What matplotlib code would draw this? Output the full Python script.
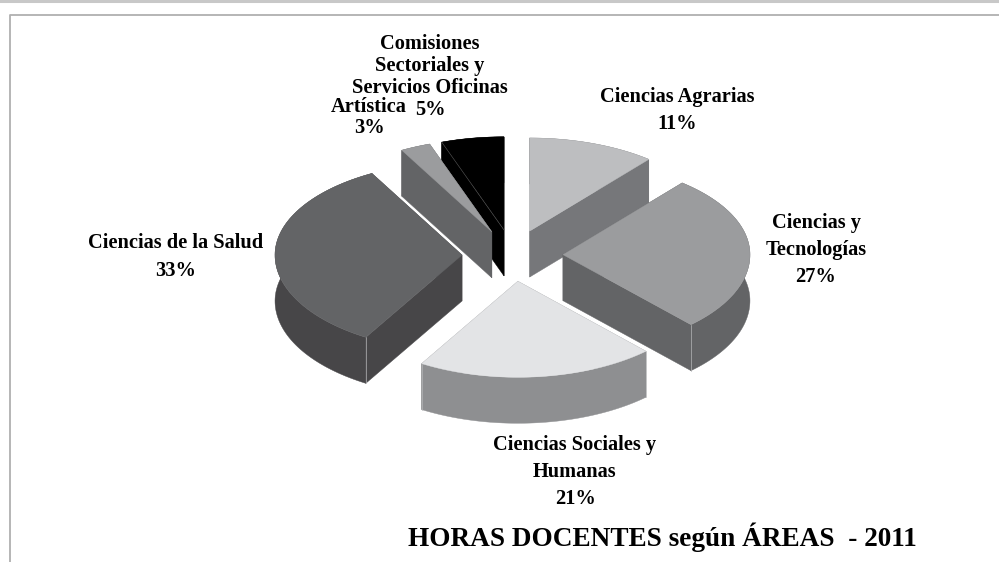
import numpy as np
from matplotlib import pyplot as plt
from matplotlib.patches import Polygon

plt.rcParams['font.family'] = ['Liberation Serif', 'DejaVu Serif']

# clockwise from 12 o'clock
areas = ["Ciencias Agrarias", "Ciencias y\nTecnologías", "Ciencias Sociales y\nHumanas",
         "Ciencias de la Salud", "Artística", "Comisiones\nSectoriales y\nServicios Oficinas"]
values = [11, 27, 20.6, 33.4, 2.6, 5.4]

top_colors = ['#bdbec0', '#9b9c9e', '#e3e4e6', '#636466', '#9b9c9e', '#000000']
side_colors = ['#76777a', '#636466', '#8e8f91', '#474648', '#636466', '#000000']
draw_order = [0, 5, 4, 3, 1, 2]

label_pos = [(677, 110.5), (816, 250), (575, 472), (176, 257), (369, 117.5), (430, 77)]
label_gap = [1.5, 1.46, 1.48, 1.55, 1.08, 1.14]

cx, cy = 512.5, 255.5
rx, ry = 187, 96
back_squeeze = 0.03
depth = 46
explode = 0.27

fig = plt.figure(figsize=(9.99, 5.62), dpi=100)
ax = fig.add_axes([0, 0, 1, 1])
ax.set_xlim(0, 999)
ax.set_ylim(562, 0)
ax.axis('off')

# page frame around the chart
ax.plot([0, 999], [1, 1], color='#c8c8c8', lw=2.2, zorder=1)
ax.plot([9.5, 9.5, 999], [562, 14.5, 14.5], color='#b0b0b0', lw=1.3, zorder=1)


def rim_point(a, x0, y0):
    c = np.cos(a)
    return x0 + rx * np.sin(a), y0 - ry * c * (1 - back_squeeze * (c > 0))


def draw_slice(a0, a1, top, side, z):
    mid = (a0 + a1) / 2
    x0 = cx + explode * rx * np.sin(mid)
    y0 = cy - explode * ry * np.cos(mid)
    t = np.linspace(a0, a1, 80)
    xs, ys = rim_point(t, x0, y0)

    # cut faces first, then outer wall, the top covers what is hidden
    for a in (a0, a1):
        xr, yr = rim_point(a, x0, y0)
        face = [(x0, y0), (xr, yr), (xr, yr + depth), (x0, y0 + depth)]
        ax.add_patch(Polygon(face, fc=side, ec=side, lw=0.3, zorder=z))
    wall = list(zip(xs, ys)) + list(zip(xs[::-1], ys[::-1] + depth))
    ax.add_patch(Polygon(wall, fc=side, ec=side, lw=0.3, zorder=z))

    # thin light line on the corners facing the viewer
    for a in (a0, a1):
        if np.cos(a) < 0:
            xr, yr = rim_point(a, x0, y0)
            ax.plot([xr, xr], [yr, yr + depth], color='#b5b6b8', lw=0.5, zorder=z + 0.1)

    outline = [(x0, y0)] + list(zip(xs, ys))
    ax.add_patch(Polygon(outline, fc=top, ec=top, lw=0.3, zorder=z + 0.2))

    if top == '#000000':
        xr, yr = rim_point(a0, x0, y0)
        ax.plot([xr, x0], [yr, y0], color='#5a5a5a', lw=0.4, zorder=z + 0.3)


edges = np.radians(np.cumsum([0] + values) / sum(values) * 360)
for z, i in enumerate(draw_order):
    draw_slice(edges[i], edges[i + 1], top_colors[i], side_colors[i], 2 + z)

for name, v, pos, gap in zip(areas, values, label_pos, label_gap):
    ax.text(pos[0], pos[1], f"{name}\n{round(v)}%", ha='center', va='center',
            fontsize=14.7, fontweight='bold', linespacing=gap, zorder=20)

ax.text(662, 537, "HORAS DOCENTES según ÁREAS  - 2011", ha='center', va='center',
        fontsize=19.6, fontweight='bold', zorder=20)

fig.savefig('out.png', dpi=100)
